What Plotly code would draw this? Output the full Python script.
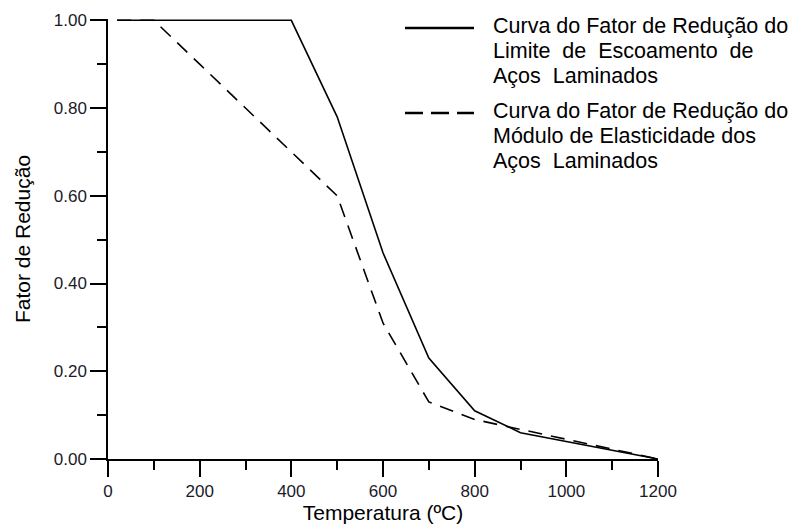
import plotly.graph_objects as go

temps = [20, 100, 200, 300, 400, 500, 600, 700, 800, 900, 1000, 1100, 1200]
ky = [1.0, 1.0, 1.0, 1.0, 1.0, 0.78, 0.47, 0.23, 0.11, 0.06, 0.04, 0.02, 0.0]
kE = [1.0, 1.0, 0.90, 0.80, 0.70, 0.60, 0.31, 0.13, 0.09, 0.0675, 0.045, 0.0225, 0.0]

x_ticks = [0, 200, 400, 600, 800, 1000, 1200]
y_ticks = [0.0, 0.2, 0.4, 0.6, 0.8, 1.0]

legend_solid = ["Curva do Fator de Redução do",
                "Limite\u00a0 de\u00a0 Escoamento\u00a0 de",
                "Aços\u00a0 Laminados"]
legend_dash = ["Curva do Fator de Redução do",
               "Módulo de Elasticidade dos",
               "Aços\u00a0 Laminados"]

W, H = 795, 526
ML, MR, MT, MB = 108, 137, 19, 67
PW, PH = W - ML - MR, H - MT - MB
FONT = "Liberation Sans, Arial, sans-serif"

fig = go.Figure()
fig.add_trace(go.Scatter(x=temps, y=ky, mode="lines",
                         line=dict(color="black", width=1.6), showlegend=False))
fig.add_trace(go.Scatter(x=temps, y=kE, mode="lines",
                         line=dict(color="black", width=1.6, dash="14px,9px"), showlegend=False))

# custom legend: pixel positions converted to paper (plot-area) coordinates
def px(x):
    return (x - ML) / PW
def py(y):
    return (H - MB - y) / PH

fig.add_shape(type="line", xref="paper", yref="paper", x0=px(405), x1=px(474), y0=py(28), y1=py(28),
              line=dict(color="black", width=2.5))
fig.add_shape(type="line", xref="paper", yref="paper", x0=px(405), x1=px(474), y0=py(113), y1=py(113),
              line=dict(color="black", width=2.5, dash="18px,8px"))

for i, t in enumerate(legend_solid):
    fig.add_annotation(xref="paper", yref="paper", x=px(491), y=py(26 + 25 * i), text=t,
                       showarrow=False, xanchor="left", yanchor="middle",
                       font=dict(family=FONT, size=21.5, color="black"))
for i, t in enumerate(legend_dash):
    fig.add_annotation(xref="paper", yref="paper", x=px(491), y=py(111 + 25 * i), text=t,
                       showarrow=False, xanchor="left", yanchor="middle",
                       font=dict(family=FONT, size=21.5, color="black"))

axis_common = dict(showline=True, linecolor="black", linewidth=1.5, showgrid=False, zeroline=False,
                   ticks="outside", ticklen=16, tickwidth=1.5, tickcolor="black", automargin=False,
                   tickfont=dict(family=FONT, size=17, color="#1a1a2a"))

fig.update_xaxes(range=[0, 1200], tickvals=x_ticks, ticktext=[str(v) for v in x_ticks],
                 minor=dict(dtick=100, ticks="outside", ticklen=9, tickwidth=1.5, tickcolor="black"),
                 title=dict(text="Temperatura (ºC)", font=dict(family=FONT, size=21, color="black"), standoff=0),
                 **axis_common)
fig.update_yaxes(range=[0, 1.003], tickvals=y_ticks, tickformat=".2f",
                 minor=dict(dtick=0.1, tick0=0, ticks="outside", ticklen=9, tickwidth=1.5, tickcolor="black"),
                 title=dict(text="Fator de Redução", font=dict(family=FONT, size=21, color="black"), standoff=17),
                 **axis_common)

fig.update_layout(width=W, height=H, margin=dict(l=ML, r=MR, t=MT, b=MB),
                  plot_bgcolor="white", paper_bgcolor="white", showlegend=False)

fig.write_html("out.html", config={"displayModeBar": False},
               post_script="document.body.style.margin='0';")
